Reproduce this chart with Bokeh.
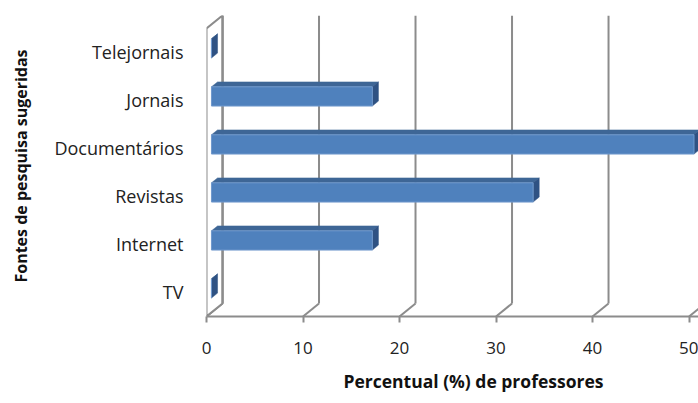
from bokeh.plotting import figure
from bokeh.models import FixedTicker, ColumnDataSource, Title
from bokeh.embed import file_html
from bokeh.resources import INLINE

# ---- data ----
categories = ["TV", "Internet", "Revistas", "Documentários", "Jornais", "Telejornais"]
values = [0, 16.67, 33.33, 50, 16.67, 0]
x_ticks = [0, 10, 20, 30, 40, 50]
x_title = "Percentual (%) de professores"
y_title = "Fontes de pesquisa sugeridas"

# ---- 3D geometry (style constants) ----
X_END = 50.98
Y_TOP = 6.27
DX = 1.658   # depth offset in x (data units)
DY = 0.271   # depth offset in y (category units)
F0, F1 = 0.31, 0.69  # bar depth (front, back) fraction
H = 0.40     # bar thickness in category units

GRID = "#8c8c8c"
FRONT = "#4f81bd"
TOP = "#3e6696"
SIDE = "#2f5283"
FONT = "Open Sans"

p = figure(width=698, height=403, x_range=(0, X_END), y_range=(0, Y_TOP),
           output_backend="svg", toolbar_location=None,
           min_border_left=206, min_border_right=0, min_border_top=15, min_border_bottom=87)
p.outline_line_color = None
p.xgrid.visible = False
p.ygrid.visible = False
p.background_fill_color = "white"

n = len(categories)

# back wall gridlines
gx = [[t + DX, t + DX] for t in x_ticks]
gy = [[DY, n + DY] for t in x_ticks]
p.multi_line(gx, gy, line_color=GRID, line_width=2)
# floor diagonals
fx = [[t, t + DX] for t in x_ticks]
fy = [[0, DY] for t in x_ticks]
p.multi_line(fx, fy, line_color=GRID, line_width=2)
# left wall
p.patch([0, DX, DX, 0], [0, DY, n + DY, n], fill_color="white", line_color=GRID, line_width=2)
p.multi_line([[DX, DX]], [[DY, n + DY]], line_color=GRID, line_width=2)

# bars
fl, fr, fb, ft = [], [], [], []
top_xs, top_ys, side_xs, side_ys = [], [], [], []
for i, v in enumerate(values):
    c = i + 0.5
    x0 = F0 * DX
    y0 = c - H / 2 + F0 * DY
    y1 = c + H / 2 + F0 * DY
    fl.append(x0); fr.append(v + x0); fb.append(y0); ft.append(y1)
    ddx = (F1 - F0) * DX
    ddy = (F1 - F0) * DY
    top_xs.append([x0, v + x0, v + x0 + ddx, x0 + ddx])
    top_ys.append([y1, y1, y1 + ddy, y1 + ddy])
    side_xs.append([v + x0, v + x0, v + x0 + ddx, v + x0 + ddx])
    side_ys.append([y0, y1, y1 + ddy, y0 + ddy])

p.patches(top_xs, top_ys, fill_color=TOP, line_color=TOP, line_width=0.5)
p.patches(side_xs, side_ys, fill_color=SIDE, line_color=SIDE, line_width=0.5)
src = ColumnDataSource(dict(left=fl, right=fr, bottom=fb, top=ft))
p.quad(left="left", right="right", bottom="bottom", top="top", source=src,
       fill_color=FRONT, line_color="#6f98cc", line_width=1)

# bottom axis
xa = p.xaxis[0]
xa.ticker = FixedTicker(ticks=x_ticks)
xa.axis_line_color = GRID
xa.axis_line_width = 2
xa.major_tick_line_color = GRID
xa.major_tick_line_width = 2
xa.major_tick_out = 6
xa.major_tick_in = 0
xa.minor_tick_line_color = None
xa.major_label_text_font = FONT
xa.major_label_text_font_size = "17px"
xa.major_label_text_color = "#222222"
xa.major_label_standoff = 19

p.add_layout(Title(text=x_title, align="left", offset=137, standoff=20,
                   text_font=FONT, text_font_size="17.5px", text_font_style="bold",
                   text_color="#111111"), "below")

# left axis
ya = p.yaxis[0]
ya.ticker = FixedTicker(ticks=[i + 0.5 for i in range(n)])
ya.major_label_overrides = {i + 0.5: categories[i] for i in range(n)}
ya.axis_line_color = None
ya.major_tick_line_color = None
ya.minor_tick_line_color = None
ya.major_label_text_font = FONT
ya.major_label_text_font_size = "18px"
ya.major_label_text_color = "#222222"
ya.major_label_standoff = 17
ya.axis_label = y_title
ya.axis_label_text_font = FONT
ya.axis_label_text_font_size = "16px"
ya.axis_label_text_font_style = "bold"
ya.axis_label_text_color = "#111111"
ya.axis_label_standoff = 19

open("out.html", "w").write(file_html(p, INLINE))
